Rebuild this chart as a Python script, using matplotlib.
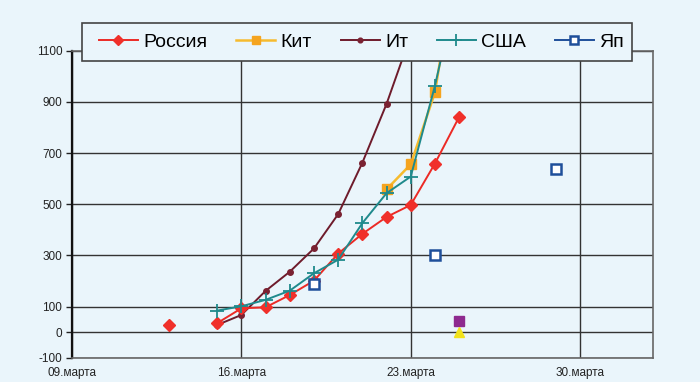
import datetime as dt
import numpy as np
import matplotlib
matplotlib.use('Agg')
import matplotlib.pyplot as plt
from matplotlib.patches import Rectangle

plt.rcParams['font.family'] = ['Liberation Sans', 'DejaVu Sans']
plt.rcParams['axes.unicode_minus'] = False

nan = np.nan

# days from 13 to 29 March
days = [dt.datetime(2020, 3, d) for d in range(13, 30)]

russia = [28, nan, 35, 93, 97, 145, 201, 307, 384, 450, 497, 659, 841,
          nan, nan, nan, nan]
china = [nan, nan, nan, nan, nan, nan, nan, nan, nan, 558, 656, 937, 1520,
         nan, nan, nan, nan]
italy = [nan, nan, 28, 67, 161, 236, 327, 461, 662, 892, 1160, nan, nan,
         nan, nan, nan, nan]
usa = [nan, nan, 84, 101, 126, 162, 230, 283, 426, 543, 608, 963, 1380,
       nan, nan, nan, nan]
japan = [nan, nan, nan, nan, nan, nan, 188, nan, nan, nan, nan, 302, nan,
         nan, nan, nan, 639]

# two extra unlabeled points on 25 March
extra_day = [dt.datetime(2020, 3, 25)]
extra_purple = [44]
extra_yellow = [0]

labels = ['Россия', 'Кит', 'Ит', 'США', 'Яп']
y_ticks = [-100, 0, 100, 300, 500, 700, 900, 1100]
x_ticks = [dt.datetime(2020, 3, d) for d in (9, 16, 23, 30)]
x_ticklabels = ['09.марта', '16.марта', '23.марта', '30.марта']

bg = '#eaf5fb'
W, H = 700, 382

fig = plt.figure(figsize=(7, 3.82), dpi=100, facecolor=bg)
ax = fig.add_axes([72/W, 1-357.7/H, 580.7/W, 307/H])
ax.set_facecolor(bg)

ax.plot(days, russia, color='#ec2a25', lw=1.4, marker='D', ms=6,
        mfc='#f0302a', mec='#f0302a', label=labels[0], zorder=4)
ax.plot(days, china, color='#f6bb2e', lw=1.8, marker='s', ms=6.5,
        mfc='#f5a41f', mec='#f5a41f', label=labels[1], zorder=3)
ax.plot(days, italy, color='#6e1b2b', lw=1.4, marker='o', ms=4,
        mfc='#7a2232', mec='#7a2232', label=labels[2], zorder=3)
ax.plot(days, usa, color='#1f8a8c', lw=1.4, marker='+', ms=10, mew=1.3,
        label=labels[3], zorder=4)
ax.plot(days, japan, color='#1f4f9a', lw=1.4, marker='s', ms=6.5, mew=1.8,
        mfc='white', mec='#1f4f9a', label=labels[4], zorder=5)
ax.plot(extra_day, extra_purple, ls='none', marker='s', ms=6.5,
        mfc='#8e2a8f', mec='#8e2a8f', zorder=5)
ax.plot(extra_day, extra_yellow, ls='none', marker='^', ms=7,
        mfc='#f2e21a', mec='#f2e21a', zorder=5)

ax.set_xlim(dt.datetime(2020, 3, 9), dt.datetime(2020, 4, 2))
ax.set_ylim(-100, 1100)
ax.set_xticks(x_ticks)
ax.set_xticklabels(x_ticklabels)
ax.set_yticks(y_ticks)
ax.tick_params(axis='x', length=0, pad=7, labelsize=8.5, colors='#222222')
ax.tick_params(axis='y', length=4, width=1, pad=3, labelsize=8.5,
               colors='#222222')
ax.grid(True, color='#333333', lw=1.0)
ax.set_axisbelow(True)

ax.spines['left'].set_color('#111111')
ax.spines['left'].set_linewidth(1.6)
for s in ('bottom', 'right', 'top'):
    ax.spines[s].set_color('#666666')
    ax.spines[s].set_linewidth(1.2)

# legend box drawn on top of the axes, legend itself without frame
box = Rectangle((82/W, 1-60.7/H), 550.3/W, 37.4/H, transform=fig.transFigure,
                facecolor=bg, edgecolor='#444444', lw=1.2, zorder=5)
fig.patches.append(box)

handles, _ = ax.get_legend_handles_labels()
leg = fig.legend(handles, labels, loc='center left', ncol=5, fontsize=14,
                 bbox_to_anchor=(99/W, 1-42/H), borderaxespad=0,
                 borderpad=0, handlelength=2.0, handletextpad=0.28,
                 columnspacing=1.48, markerscale=0.85, frameon=False)
leg.set_zorder(6)

fig.savefig('out.png', dpi=100, facecolor=bg)
